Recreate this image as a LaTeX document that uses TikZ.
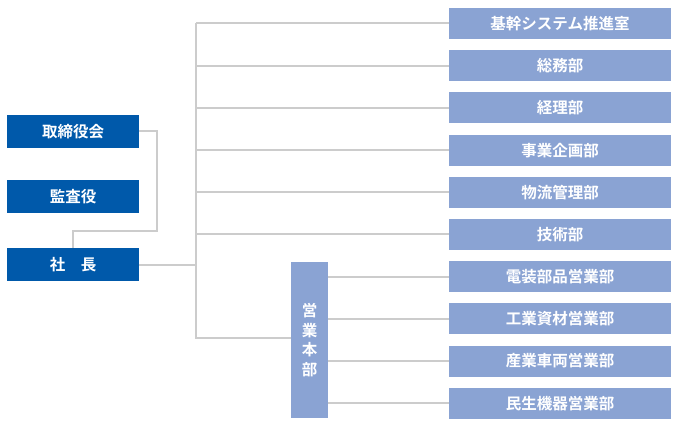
\documentclass[tikz,border=0pt]{standalone}
\usepackage{fontspec}
\setmainfont{Noto Sans CJK JP}[BoldFont={* Bold}]
\usepackage{xcolor}
\definecolor{topblue}{RGB}{0,89,170}
\definecolor{deptblue}{RGB}{138,163,211}
\definecolor{linkgray}{RGB}{204,204,204}
\usetikzlibrary{positioning,calc}

\begin{document}
\begin{tikzpicture}[x=1pt,y=-1pt,
	exec/.style={fill=topblue,text=white,font=\fontsize{15.5}{18}\selectfont\bfseries,minimum width=132pt,minimum height=33pt,inner sep=0pt},
	dept/.style={fill=deptblue,text=white,font=\fontsize{15.5}{18}\selectfont\bfseries,minimum width=222pt,minimum height=31pt,inner sep=0pt},
	link/.style={draw=linkgray,line width=2pt}]
	\useasboundingbox (0,0) rectangle (678,430);
	
	%%% left column
	\node[exec] (board) at (73,131.5) {取締役会};
	\node[exec] (audit) at (73,196.5) {監査役};
	\node[exec] (pres) at (73,265) {社　長};
	
	%%% right column
	\node[dept] (sys) at (560,23.5) {基幹システム推進室};
	\node[dept] (gen) at (560,65.7) {総務部};
	\node[dept] (acc) at (560,107.9) {経理部};
	\node[dept] (plan) at (560,150.1) {事業企画部};
	\node[dept] (logi) at (560,192.3) {物流管理部};
	\node[dept] (tech) at (560,234.5) {技術部};
	\node[dept] (elec) at (560,276.7) {電装部品営業部};
	\node[dept] (ind) at (560,318.9) {工業資材営業部};
	\node[dept] (veh) at (560,361.1) {産業車両営業部};
	\node[dept] (home) at (560,403.3) {民生機器営業部};
	
	%%% sales headquarters
	\node[fill=deptblue,text=white,font=\fontsize{15.5}{19.5}\selectfont\bfseries,minimum width=37pt,minimum height=156pt,inner sep=0pt,align=center] (sales) at (309.5,340) {営\\業\\本\\部};
	
	%%% connectors
	\coordinate (turn) at (157,231);
	\draw[link] (board.east) -| (turn) -| (pres.north);
	
	\coordinate (top) at (196,23.5);
	\coordinate (bot) at (196,338);
	\draw[link] (top) -- (bot) -- (bot -| sales.west);
	\draw[link] (pres.east) -- (pres.east -| top);
	\draw[link] (top) -- (sys.west);
	\draw[link] (gen.west -| top) -- (gen.west);
	\draw[link] (acc.west -| top) -- (acc.west);
	\draw[link] (plan.west -| top) -- (plan.west);
	\draw[link] (logi.west -| top) -- (logi.west);
	\draw[link] (tech.west -| top) -- (tech.west);
	
	\draw[link] (sales.east |- elec.west) -- (elec.west);
	\draw[link] (sales.east |- ind.west) -- (ind.west);
	\draw[link] (sales.east |- veh.west) -- (veh.west);
	\draw[link] (sales.east |- home.west) -- (home.west);
	
\end{tikzpicture}
\end{document}
